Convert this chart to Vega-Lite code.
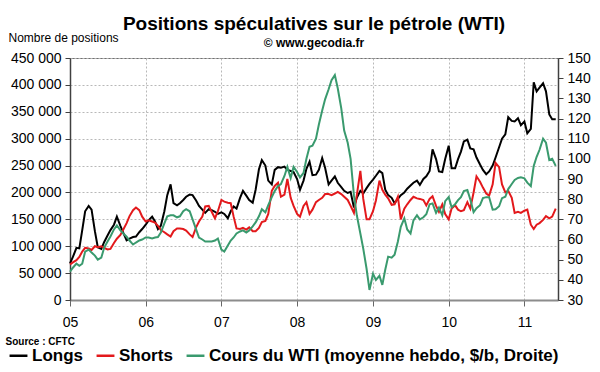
{
  "$schema": "https://vega.github.io/schema/vega-lite/v6.json",
  "width": 488,
  "height": 242,
  "autosize": {"type": "none"},
  "padding": {"left": 70, "top": 58, "right": 42, "bottom": 72},
  "background": "white",
  "config": {
    "font": "Liberation Sans",
    "view": {"stroke": "#707070", "strokeWidth": 1}
  },
  "title": {
    "text": "Positions spéculatives sur le pétrole (WTI)",
    "subtitle": "© www.gecodia.fr",
    "fontSize": 19,
    "fontWeight": "bold",
    "color": "#000",
    "subtitleFontSize": 12,
    "subtitleFontWeight": "bold",
    "subtitleColor": "#000",
    "subtitlePadding": 4,
    "anchor": "middle",
    "offset": -18
  },
  "data": {"values": [
    {"d":"2005-01-01","Longs":68000,"Shorts":66000,"WTI":44},
    {"d":"2005-01-15","Longs":80000,"Shorts":70000,"WTI":46},
    {"d":"2005-02-01","Longs":97000,"Shorts":74000,"WTI":48},
    {"d":"2005-02-15","Longs":96000,"Shorts":80000,"WTI":47},
    {"d":"2005-03-01","Longs":130000,"Shorts":90000,"WTI":48},
    {"d":"2005-03-15","Longs":165000,"Shorts":97000,"WTI":54},
    {"d":"2005-04-01","Longs":175000,"Shorts":96000,"WTI":55},
    {"d":"2005-04-15","Longs":168000,"Shorts":93000,"WTI":53.5},
    {"d":"2005-05-01","Longs":128000,"Shorts":100000,"WTI":52},
    {"d":"2005-05-15","Longs":98000,"Shorts":98000,"WTI":50},
    {"d":"2005-06-01","Longs":95000,"Shorts":100000,"WTI":51},
    {"d":"2005-06-15","Longs":108000,"Shorts":97000,"WTI":56},
    {"d":"2005-07-01","Longs":120000,"Shorts":94000,"WTI":59},
    {"d":"2005-07-15","Longs":130000,"Shorts":95000,"WTI":61.5},
    {"d":"2005-08-01","Longs":140000,"Shorts":106000,"WTI":65},
    {"d":"2005-08-15","Longs":155000,"Shorts":114000,"WTI":67},
    {"d":"2005-09-01","Longs":138000,"Shorts":121000,"WTI":64.5},
    {"d":"2005-09-15","Longs":125000,"Shorts":131000,"WTI":63},
    {"d":"2005-10-01","Longs":111000,"Shorts":143000,"WTI":61.4},
    {"d":"2005-10-15","Longs":114000,"Shorts":156000,"WTI":59.5},
    {"d":"2005-11-01","Longs":117000,"Shorts":167000,"WTI":57.5},
    {"d":"2005-11-15","Longs":118000,"Shorts":172000,"WTI":58.5},
    {"d":"2005-12-01","Longs":126000,"Shorts":167000,"WTI":59.5},
    {"d":"2005-12-15","Longs":132000,"Shorts":155000,"WTI":60},
    {"d":"2006-01-01","Longs":140000,"Shorts":146000,"WTI":61},
    {"d":"2006-01-15","Longs":148000,"Shorts":148000,"WTI":61},
    {"d":"2006-02-01","Longs":155000,"Shorts":146000,"WTI":60.5},
    {"d":"2006-02-15","Longs":146000,"Shorts":144000,"WTI":61},
    {"d":"2006-03-01","Longs":132000,"Shorts":138000,"WTI":61.2},
    {"d":"2006-03-15","Longs":138000,"Shorts":130000,"WTI":63.5},
    {"d":"2006-04-01","Longs":165000,"Shorts":126000,"WTI":68},
    {"d":"2006-04-15","Longs":195000,"Shorts":122000,"WTI":71.5},
    {"d":"2006-05-01","Longs":215000,"Shorts":118000,"WTI":72},
    {"d":"2006-05-15","Longs":180000,"Shorts":128000,"WTI":72},
    {"d":"2006-06-01","Longs":176000,"Shorts":133000,"WTI":71},
    {"d":"2006-06-15","Longs":180000,"Shorts":133000,"WTI":71.5},
    {"d":"2006-07-01","Longs":186000,"Shorts":132000,"WTI":74},
    {"d":"2006-07-15","Longs":192000,"Shorts":129000,"WTI":75},
    {"d":"2006-08-01","Longs":196000,"Shorts":122000,"WTI":74},
    {"d":"2006-08-15","Longs":195000,"Shorts":117000,"WTI":70},
    {"d":"2006-09-01","Longs":185000,"Shorts":135000,"WTI":65},
    {"d":"2006-09-15","Longs":175000,"Shorts":146000,"WTI":61},
    {"d":"2006-10-01","Longs":168000,"Shorts":155000,"WTI":60},
    {"d":"2006-10-15","Longs":162000,"Shorts":174000,"WTI":59},
    {"d":"2006-11-01","Longs":169000,"Shorts":175000,"WTI":59},
    {"d":"2006-11-15","Longs":167000,"Shorts":164000,"WTI":59},
    {"d":"2006-12-01","Longs":164000,"Shorts":152000,"WTI":59.5},
    {"d":"2006-12-15","Longs":160000,"Shorts":165000,"WTI":60.5},
    {"d":"2007-01-01","Longs":163000,"Shorts":186000,"WTI":55},
    {"d":"2007-01-15","Longs":160000,"Shorts":183000,"WTI":54},
    {"d":"2007-02-01","Longs":152000,"Shorts":181000,"WTI":57},
    {"d":"2007-02-15","Longs":165000,"Shorts":180000,"WTI":59.5},
    {"d":"2007-03-01","Longs":174000,"Shorts":155000,"WTI":61},
    {"d":"2007-03-15","Longs":170000,"Shorts":133000,"WTI":63},
    {"d":"2007-04-01","Longs":190000,"Shorts":132000,"WTI":64},
    {"d":"2007-04-15","Longs":203000,"Shorts":134000,"WTI":64.5},
    {"d":"2007-05-01","Longs":194000,"Shorts":131000,"WTI":63.5},
    {"d":"2007-05-15","Longs":186000,"Shorts":135000,"WTI":64.5},
    {"d":"2007-06-01","Longs":181000,"Shorts":128000,"WTI":66.5},
    {"d":"2007-06-15","Longs":205000,"Shorts":128000,"WTI":68.5},
    {"d":"2007-07-01","Longs":243000,"Shorts":134000,"WTI":71.5},
    {"d":"2007-07-15","Longs":260000,"Shorts":145000,"WTI":75},
    {"d":"2007-08-01","Longs":250000,"Shorts":147000,"WTI":73.5},
    {"d":"2007-08-15","Longs":222000,"Shorts":160000,"WTI":77},
    {"d":"2007-09-01","Longs":215000,"Shorts":203000,"WTI":81},
    {"d":"2007-09-15","Longs":242000,"Shorts":212000,"WTI":84},
    {"d":"2007-10-01","Longs":247000,"Shorts":218000,"WTI":86.5},
    {"d":"2007-10-15","Longs":246000,"Shorts":192000,"WTI":87.5},
    {"d":"2007-11-01","Longs":248000,"Shorts":196000,"WTI":91.5},
    {"d":"2007-11-15","Longs":242000,"Shorts":225000,"WTI":96},
    {"d":"2007-12-01","Longs":240000,"Shorts":190000,"WTI":90.5},
    {"d":"2007-12-15","Longs":238000,"Shorts":175000,"WTI":96},
    {"d":"2008-01-01","Longs":225000,"Shorts":160000,"WTI":93.5},
    {"d":"2008-01-15","Longs":205000,"Shorts":155000,"WTI":90.8},
    {"d":"2008-02-01","Longs":222000,"Shorts":175000,"WTI":93},
    {"d":"2008-02-15","Longs":244000,"Shorts":182000,"WTI":100},
    {"d":"2008-03-01","Longs":257000,"Shorts":160000,"WTI":106},
    {"d":"2008-03-15","Longs":232000,"Shorts":168000,"WTI":106.5},
    {"d":"2008-04-01","Longs":233000,"Shorts":182000,"WTI":110},
    {"d":"2008-04-15","Longs":242000,"Shorts":186000,"WTI":117},
    {"d":"2008-05-01","Longs":264000,"Shorts":190000,"WTI":124},
    {"d":"2008-05-15","Longs":246000,"Shorts":197000,"WTI":129.5},
    {"d":"2008-06-01","Longs":215000,"Shorts":197000,"WTI":134.5},
    {"d":"2008-06-15","Longs":222000,"Shorts":195000,"WTI":139},
    {"d":"2008-07-01","Longs":230000,"Shorts":198000,"WTI":141.5},
    {"d":"2008-07-15","Longs":218000,"Shorts":201000,"WTI":135},
    {"d":"2008-08-01","Longs":210000,"Shorts":197000,"WTI":125},
    {"d":"2008-08-15","Longs":203000,"Shorts":192000,"WTI":114},
    {"d":"2008-09-01","Longs":199000,"Shorts":186000,"WTI":108},
    {"d":"2008-09-15","Longs":201000,"Shorts":175000,"WTI":100},
    {"d":"2008-10-01","Longs":172000,"Shorts":162000,"WTI":82},
    {"d":"2008-10-15","Longs":190000,"Shorts":195000,"WTI":72},
    {"d":"2008-11-01","Longs":203000,"Shorts":240000,"WTI":63},
    {"d":"2008-11-15","Longs":198000,"Shorts":188000,"WTI":55.5},
    {"d":"2008-12-01","Longs":208000,"Shorts":150000,"WTI":45.5},
    {"d":"2008-12-15","Longs":216000,"Shorts":150000,"WTI":35},
    {"d":"2009-01-01","Longs":224000,"Shorts":165000,"WTI":43},
    {"d":"2009-01-15","Longs":231000,"Shorts":185000,"WTI":40},
    {"d":"2009-02-01","Longs":240000,"Shorts":222000,"WTI":42},
    {"d":"2009-02-15","Longs":236000,"Shorts":205000,"WTI":37.5},
    {"d":"2009-03-01","Longs":205000,"Shorts":196000,"WTI":45},
    {"d":"2009-03-15","Longs":195000,"Shorts":189000,"WTI":51.5},
    {"d":"2009-04-01","Longs":190000,"Shorts":177000,"WTI":51},
    {"d":"2009-04-15","Longs":180000,"Shorts":178000,"WTI":52.5},
    {"d":"2009-05-01","Longs":188000,"Shorts":192000,"WTI":59},
    {"d":"2009-05-15","Longs":195000,"Shorts":150000,"WTI":66.3},
    {"d":"2009-06-01","Longs":200000,"Shorts":170000,"WTI":70.5},
    {"d":"2009-06-15","Longs":207000,"Shorts":178000,"WTI":65},
    {"d":"2009-07-01","Longs":213000,"Shorts":186000,"WTI":63},
    {"d":"2009-07-15","Longs":218000,"Shorts":192000,"WTI":69.5},
    {"d":"2009-08-01","Longs":222000,"Shorts":189000,"WTI":72},
    {"d":"2009-08-15","Longs":214000,"Shorts":188000,"WTI":70},
    {"d":"2009-09-01","Longs":225000,"Shorts":186000,"WTI":71},
    {"d":"2009-09-15","Longs":230000,"Shorts":176000,"WTI":72.5},
    {"d":"2009-10-01","Longs":240000,"Shorts":188000,"WTI":77.5},
    {"d":"2009-10-15","Longs":280000,"Shorts":193000,"WTI":77.9},
    {"d":"2009-11-01","Longs":262000,"Shorts":175000,"WTI":73.2},
    {"d":"2009-11-15","Longs":239000,"Shorts":164000,"WTI":75.8},
    {"d":"2009-12-01","Longs":238000,"Shorts":178000,"WTI":72},
    {"d":"2009-12-15","Longs":262000,"Shorts":160000,"WTI":79},
    {"d":"2010-01-01","Longs":287000,"Shorts":150000,"WTI":81},
    {"d":"2010-01-15","Longs":245000,"Shorts":170000,"WTI":76},
    {"d":"2010-02-01","Longs":245000,"Shorts":176000,"WTI":77.5},
    {"d":"2010-02-15","Longs":262000,"Shorts":168000,"WTI":79.5},
    {"d":"2010-03-01","Longs":276000,"Shorts":165000,"WTI":81},
    {"d":"2010-03-15","Longs":295000,"Shorts":167000,"WTI":84},
    {"d":"2010-04-01","Longs":298000,"Shorts":182000,"WTI":84.5},
    {"d":"2010-04-15","Longs":282000,"Shorts":170000,"WTI":80},
    {"d":"2010-05-01","Longs":280000,"Shorts":200000,"WTI":73.5},
    {"d":"2010-05-15","Longs":265000,"Shorts":230000,"WTI":75.5},
    {"d":"2010-06-01","Longs":252000,"Shorts":220000,"WTI":77},
    {"d":"2010-06-15","Longs":242000,"Shorts":209000,"WTI":80.5},
    {"d":"2010-07-01","Longs":234000,"Shorts":198000,"WTI":81},
    {"d":"2010-07-15","Longs":239000,"Shorts":194000,"WTI":81},
    {"d":"2010-08-01","Longs":250000,"Shorts":215000,"WTI":74.8},
    {"d":"2010-08-15","Longs":265000,"Shorts":255000,"WTI":75},
    {"d":"2010-09-01","Longs":284000,"Shorts":247000,"WTI":76.5},
    {"d":"2010-09-15","Longs":300000,"Shorts":215000,"WTI":80.5},
    {"d":"2010-10-01","Longs":308000,"Shorts":200000,"WTI":81.2},
    {"d":"2010-10-15","Longs":340000,"Shorts":203000,"WTI":85},
    {"d":"2010-11-01","Longs":333000,"Shorts":190000,"WTI":87.5},
    {"d":"2010-11-15","Longs":332000,"Shorts":162000,"WTI":89.5},
    {"d":"2010-12-01","Longs":338000,"Shorts":164000,"WTI":90.5},
    {"d":"2010-12-15","Longs":325000,"Shorts":162000,"WTI":90.8},
    {"d":"2011-01-01","Longs":332000,"Shorts":166000,"WTI":90.3},
    {"d":"2011-01-15","Longs":310000,"Shorts":168000,"WTI":88.2},
    {"d":"2011-02-01","Longs":318000,"Shorts":140000,"WTI":86.5},
    {"d":"2011-02-15","Longs":405000,"Shorts":132000,"WTI":96.5},
    {"d":"2011-03-01","Longs":388000,"Shorts":140000,"WTI":101},
    {"d":"2011-03-15","Longs":395000,"Shorts":143000,"WTI":104.5},
    {"d":"2011-04-01","Longs":403000,"Shorts":149000,"WTI":110},
    {"d":"2011-04-15","Longs":388000,"Shorts":156000,"WTI":108},
    {"d":"2011-05-01","Longs":345000,"Shorts":152000,"WTI":99.4},
    {"d":"2011-05-15","Longs":336000,"Shorts":155000,"WTI":100},
    {"d":"2011-06-01","Longs":336000,"Shorts":170000,"WTI":96.5}
  ]},
  "layer": [
    {
      "transform": [{"fold": ["Longs", "Shorts"], "as": ["serie", "v"]}],
      "mark": {"type": "line", "strokeWidth": 2},
      "encoding": {
        "x": {
          "field": "d", "type": "temporal",
          "scale": {"type": "utc", "domain": [{"year": 2005, "month": 1, "date": 1, "utc": true}, {"year": 2011, "month": 6, "date": 12, "utc": true}]},
          "axis": {
            "values": [
              {"year": 2005, "month": 1, "date": 1, "utc": true},
              {"year": 2006, "month": 1, "date": 1, "utc": true},
              {"year": 2007, "month": 1, "date": 1, "utc": true},
              {"year": 2008, "month": 1, "date": 1, "utc": true},
              {"year": 2009, "month": 1, "date": 1, "utc": true},
              {"year": 2010, "month": 1, "date": 1, "utc": true},
              {"year": 2011, "month": 1, "date": 1, "utc": true}
            ],
            "format": "%y",
            "grid": true, "gridColor": "#b8b8b8", "gridDash": [2, 2], "gridWidth": 1,
            "domainColor": "#8c8c8c", "domainWidth": 2,
            "tickColor": "#666", "tickSize": 6,
            "labelFontSize": 14, "labelColor": "#000", "labelPadding": 9, "labelFlush": false,
            "title": "Source : CFTC",
            "titleFontSize": 10, "titleFontWeight": "bold", "titleColor": "#000",
            "titleAnchor": "start", "titleAlign": "left", "titleBaseline": "alphabetic",
            "titleX": -65, "titleY": 44
          }
        },
        "y": {
          "field": "v", "type": "quantitative",
          "scale": {"domain": [0, 450000], "nice": false},
          "axis": {
            "values": [0, 50000, 100000, 150000, 200000, 250000, 300000, 350000, 400000, 450000],
            "labelExpr": "replace(format(datum.value, ','), ',', ' ')",
            "grid": true, "gridColor": "#b8b8b8", "gridDash": [2, 2], "gridWidth": 1,
            "domainColor": "#404040", "domainWidth": 1.5,
            "tickColor": "#404040", "tickSize": 5,
            "labelFontSize": 14, "labelColor": "#000", "labelPadding": 4,
            "title": "Nombre de positions",
            "titleFontSize": 12, "titleFontWeight": "normal", "titleColor": "#000",
            "titleAngle": 0, "titleAlign": "left", "titleBaseline": "alphabetic",
            "titleX": -62, "titleY": -17
          }
        },
        "color": {
          "field": "serie", "type": "nominal",
          "scale": {"domain": ["Longs", "Shorts", "WTI"], "range": ["#000000", "#e3191c", "#3a9a6e"]},
          "legend": {
            "title": null, "orient": "none", "legendX": -62, "legendY": 287,
            "direction": "horizontal",
            "symbolType": "stroke", "symbolStrokeWidth": 2.5, "symbolSize": 320,
            "labelFontSize": 17, "labelFontWeight": "bold", "labelColor": "#000",
            "labelLimit": 500, "labelOffset": 3, "columnPadding": 8,
            "labelExpr": "datum.label == 'WTI' ? 'Cours du WTI (moyenne hebdo, $/b, Droite)' : datum.label"
          }
        }
      }
    },
    {
      "transform": [{"fold": ["WTI"], "as": ["serie", "p"]}],
      "mark": {"type": "line", "strokeWidth": 2},
      "encoding": {
        "x": {"field": "d", "type": "temporal"},
        "y": {
          "field": "p", "type": "quantitative",
          "scale": {"domain": [30, 150], "nice": false},
          "axis": {
            "orient": "right",
            "values": [30, 40, 50, 60, 70, 80, 90, 100, 110, 120, 130, 140, 150],
            "grid": false,
            "domainColor": "#404040", "domainWidth": 1.5,
            "tickColor": "#404040", "tickSize": 5,
            "labelFontSize": 14, "labelColor": "#000", "labelPadding": 4,
            "title": null
          }
        },
        "color": {"field": "serie", "type": "nominal"}
      }
    }
  ],
  "resolve": {"scale": {"y": "independent"}}
}
